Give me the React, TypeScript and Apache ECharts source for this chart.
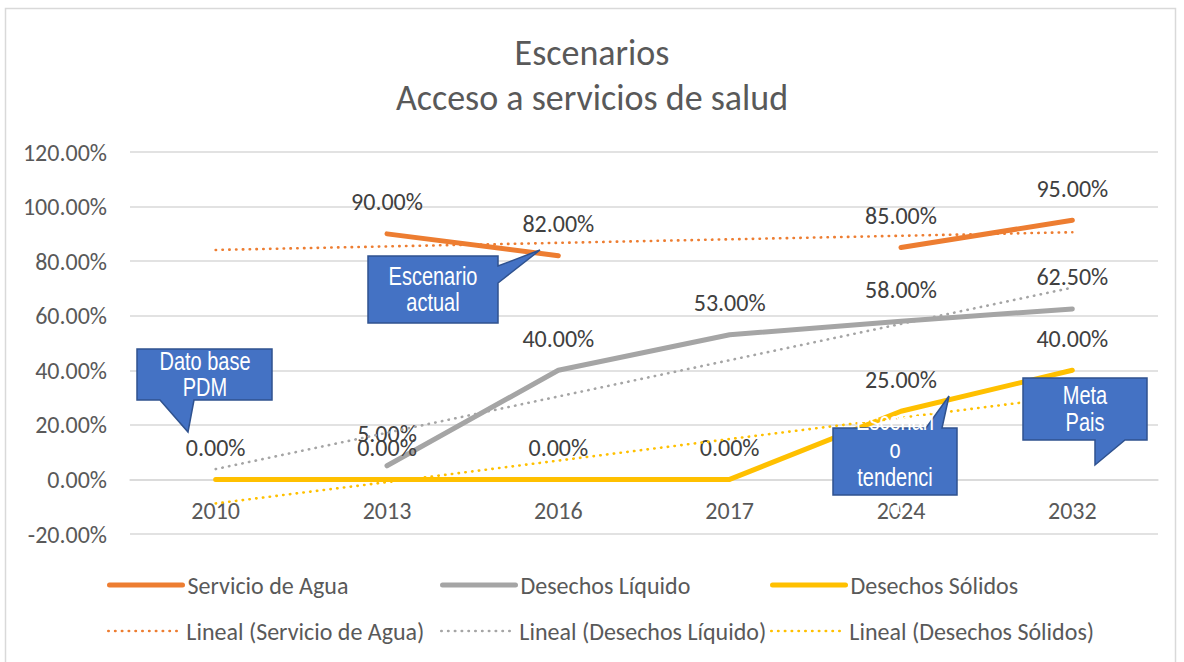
import React, { useEffect, useRef } from "react";
import * as echarts from "echarts";

const categories = ["2010", "2013", "2016", "2017", "2024", "2032"];
const agua = [null, 90, 82, null, 85, 95];
const liquido = [null, 5, 40, 53, 58, 62.5];
const solidos = [0, 0, 0, 0, 25, 40];
const trendAgua = [84.1, 85.4, 86.7, 88.0, 89.3, 90.6];
const trendLiquido = [3.8, 17.1, 30.4, 43.7, 57.0, 70.3];
const trendSolidos = [-8.8, -1.0, 6.9, 14.8, 22.6, 30.5];
const seriesNames = ["Servicio de Agua", "Desechos Líquido", "Desechos Sólidos"];
const trendNames = ["Lineal (Servicio de Agua)", "Lineal (Desechos Líquido)", "Lineal (Desechos Sólidos)"];
const colors = ["#ED7D31", "#A5A5A5", "#FFC000"];
const yTicks = { min: -20, max: 120, interval: 20 };

const FONT = "Carlito, Calibri, 'Open Sans', sans-serif";
const NARROW = "'Liberation Sans Narrow', 'Arial Narrow', 'Liberation Sans', sans-serif";
const TXT = "#595959";
const CLEAR = "rgba(0,0,0,0)";

export default function App() {
  const ref = useRef<HTMLDivElement>(null);
  useEffect(() => {
    if (!ref.current) return;
    const chart = echarts.init(ref.current, null, { renderer: "svg" });
    const mainData = [agua, liquido, solidos];
    const trendData = [trendAgua, trendLiquido, trendSolidos];
    const series: any[] = [];
    mainData.forEach((d, i) => {
      series.push({
        name: seriesNames[i],
        type: "line",
        data: d,
        symbol: "circle",
        symbolSize: 0.1,
        itemStyle: { color: CLEAR, borderWidth: 0 },
        lineStyle: { color: colors[i], width: 5, cap: "round", join: "round" },
        label: {
          show: true,
          position: "top",
          distance: 20,
          color: "#404040",
          fontSize: 24,
          fontFamily: FONT,
          formatter: (p: any) => `${Number(p.value).toFixed(2)}%`,
        },
        z: 3,
      });
    });
    trendData.forEach((d, i) => {
      series.push({
        name: trendNames[i],
        type: "line",
        data: d,
        symbol: "circle",
        symbolSize: 0.1,
        showSymbol: false,
        itemStyle: { color: CLEAR, borderWidth: 0 },
        lineStyle: { color: colors[i], width: 2.6, type: [0.4, 6.4], cap: "round" },
        z: 4,
      });
    });
    const legendPos = [
      [107, 573], [440, 573], [770, 573],
      [107, 619], [440, 619], [770, 619],
    ];
    const allNames = [...seriesNames, ...trendNames];
    const legends = allNames.map((n, i) => ({
      data: [n],
      left: legendPos[i][0],
      top: legendPos[i][1],
      itemWidth: 73,
      itemHeight: 14,
      itemGap: 5,
      padding: 0,
      lineStyle: { width: i < 3 ? 5 : 2.6 },
      itemStyle: { color: CLEAR, borderWidth: 0 },
      textStyle: { fontSize: 24, color: TXT, fontFamily: FONT },
      selectedMode: false,
    }));
    const callouts = [
      {
        pts: [[137, 349], [272, 349], [272, 400], [194, 400], [188, 432], [160, 400], [137, 400]],
        cx: 205,
        lines: [["Dato base", 362], ["PDM", 388]],
      },
      {
        pts: [[368, 256], [498, 256], [498, 266], [540, 250], [498, 283], [498, 323], [368, 323]],
        cx: 433,
        lines: [["Escenario", 277], ["actual", 303]],
      },
      {
        pts: [[833, 428], [926, 428], [949, 396], [942, 428], [957, 428], [957, 495], [833, 495]],
        cx: 895,
        lines: [["Escenari", 422], ["o", 450], ["tendenci", 478], ["a", 506]],
      },
      {
        pts: [[1023, 378], [1147, 378], [1147, 440], [1125, 440], [1095, 465], [1095, 440], [1023, 440]],
        cx: 1085,
        lines: [["Meta", 396], ["Pais", 423]],
      },
    ];
    const graphics: any[] = [
      {
        type: "rect",
        shape: { x: 5.5, y: 8.5, width: 1170, height: 665 },
        style: { fill: "none", stroke: "#D9D9D9", lineWidth: 1.5 },
        z: 0,
        silent: true,
      },
    ];
    callouts.forEach((c) => {
      graphics.push({
        type: "polygon",
        shape: { points: c.pts },
        style: { fill: "#4472C4", stroke: "#2F528F", lineWidth: 1.5 },
        z: 10,
      });
      c.lines.forEach(([t, y]) => {
        graphics.push({
          type: "text",
          x: c.cx,
          y: y as number,
          scaleX: 0.8,
          style: {
            text: t as string,
            fill: "#FFFFFF",
            fontSize: 25,
            fontFamily: NARROW,
            align: "center",
            verticalAlign: "middle",
          },
          z: 11,
        });
      });
    });
    chart.setOption({
      animation: false,
      backgroundColor: "#FFFFFF",
      title: {
        text: "Escenarios\nAcceso a servicios de salud",
        left: "center",
        top: 30,
        padding: 0,
        textStyle: { fontSize: 36, fontWeight: "normal", color: TXT, fontFamily: FONT, lineHeight: 45 },
      },
      grid: { left: 130, right: 26, top: 152, bottom: 128, containLabel: false },
      legend: legends,
      xAxis: {
        type: "category",
        data: categories,
        boundaryGap: true,
        offset: -54,
        axisLine: { onZero: false, lineStyle: { color: "#D9D9D9", width: 1.5 } },
        axisTick: { show: false },
        axisLabel: { color: TXT, fontSize: 24, fontFamily: FONT, margin: 18 },
      },
      yAxis: {
        type: "value",
        min: yTicks.min,
        max: yTicks.max,
        interval: yTicks.interval,
        axisLine: { show: false },
        axisTick: { show: false },
        splitLine: { lineStyle: { color: "#D9D9D9", width: 1.5 } },
        axisLabel: {
          color: TXT,
          fontSize: 24,
          fontFamily: FONT,
          margin: 23,
          formatter: (v: number) => `${v.toFixed(2)}%`,
        },
      },
      series,
      graphic: graphics,
    });
    return () => chart.dispose();
  }, []);
  return (
    <div
      ref={ref}
      style={{ position: "fixed", left: 0, top: 0, width: 1184, height: 662, background: "#fff" }}
    />
  );
}
